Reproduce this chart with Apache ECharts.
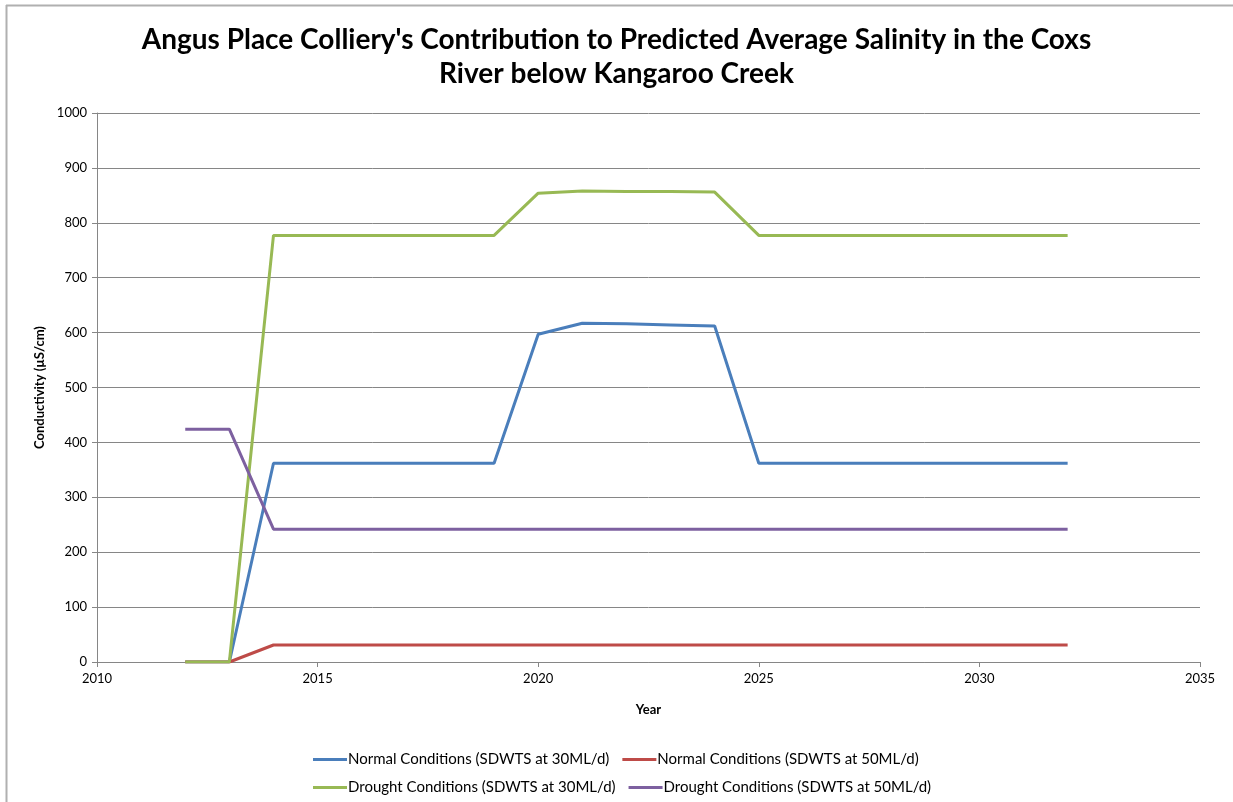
<!DOCTYPE html>
<html>
<head>
<meta charset="utf-8">
<script src="https://cdn.jsdelivr.net/npm/echarts@6/dist/echarts.min.js"></script>
<style>
    html, body { margin: 0; padding: 0; background: #fff; }
    #chart { width: 1233px; height: 802px; }
</style>
</head>
<body>
<div id="chart"></div>
<script>
// years and series values
var years          = [2012, 2013, 2014, 2015, 2016, 2017, 2018, 2019, 2020, 2021, 2022, 2023, 2024, 2025, 2026, 2027, 2028, 2029, 2030, 2031, 2032];
var normal30       = [0, 0, 362, 362, 362, 362, 362, 362, 597, 617, 616, 614, 612, 362, 362, 362, 362, 362, 362, 362, 362];
var normal50       = [0, 0, 31, 31, 31, 31, 31, 31, 31, 31, 31, 31, 31, 31, 31, 31, 31, 31, 31, 31, 31];
var drought30      = [0, 0, 777, 777, 777, 777, 777, 777, 854, 858, 857, 857, 856, 777, 777, 777, 777, 777, 777, 777, 777];
var drought50      = [424, 424, 242, 242, 242, 242, 242, 242, 242, 242, 242, 242, 242, 242, 242, 242, 242, 242, 242, 242, 242];
var seriesNames    = [
    'Normal Conditions (SDWTS at 30ML/d)',
    'Normal Conditions (SDWTS at 50ML/d)',
    'Drought Conditions (SDWTS at 30ML/d)',
    'Drought Conditions (SDWTS at 50ML/d)'
];
var seriesColors   = ['#4a7ebb', '#be4b48', '#98b954', '#7d60a0'];

var font = 'Lato, "Open Sans", sans-serif';

function pairs(vals) {
    return years.map(function (y, i) { return [y, vals[i]]; });
}

var allVals = [normal30, normal50, drought30, drought50];

var series = allVals.map(function (vals, i) {
    return {
        name: seriesNames[i],
        type: 'line',
        data: pairs(vals),
        showSymbol: false,
        symbol: 'none',
        lineStyle: { width: 3, color: seriesColors[i] },
        itemStyle: { color: seriesColors[i] }
    };
});

var chart = echarts.init(document.getElementById('chart'));

var option = {
    backgroundColor: '#fff',
    animation: false,
    title: {
        text: "Angus Place Colliery's Contribution to Predicted Average Salinity in the Coxs\nRiver below Kangaroo Creek",
        left: 'center',
        top: 18,
        textStyle: {
            fontFamily: font,
            fontSize: 28,
            fontWeight: 'bold',
            color: '#000',
            lineHeight: 34
        }
    },
    grid: { left: 97, right: 33, top: 113, bottom: 140, containLabel: false },
    legend: {
        bottom: 2,
        left: 308,
        width: 680,
        itemWidth: 34,
        itemHeight: 3,
        itemGap: 13,
        icon: 'rect',
        data: seriesNames,
        textStyle: { fontFamily: font, fontSize: 15, color: '#000', padding: [0, 0, 0, -4] },
        itemStyle: { borderWidth: 0 }
    },
    xAxis: {
        type: 'value',
        min: 2010,
        max: 2035,
        interval: 5,
        name: 'Year',
        nameLocation: 'middle',
        nameGap: 41,
        nameTextStyle: { fontFamily: font, fontSize: 13, fontWeight: 'bold', color: '#000' },
        axisLine: { show: true, lineStyle: { color: '#868686', width: 1 } },
        axisTick: { show: true, inside: false, length: 5, lineStyle: { color: '#868686' } },
        axisLabel: { fontFamily: font, fontSize: 13, color: '#000', margin: 10, formatter: function (v) { return String(v); } },
        splitLine: { show: false }
    },
    yAxis: {
        type: 'value',
        min: 0,
        max: 1000,
        interval: 100,
        name: 'Conductivity (\u00b5S/cm)',
        nameLocation: 'middle',
        nameGap: 50,
        nameTextStyle: { fontFamily: font, fontSize: 13, fontWeight: 'bold', color: '#000' },
        axisLine: { show: true, lineStyle: { color: '#868686', width: 1 } },
        axisTick: { show: true, inside: false, length: 5, lineStyle: { color: '#868686' } },
        axisLabel: { fontFamily: font, fontSize: 13, color: '#000', margin: 10, formatter: function (v) { return String(v); } },
        splitLine: { show: true, lineStyle: { color: '#868686', width: 1 } }
    },
    graphic: [
        { type: 'line', shape: { x1: 6, y1: 5.5, x2: 1233, y2: 5.5 }, style: { stroke: '#b0b0b0', lineWidth: 2 } },
        { type: 'line', shape: { x1: 6.5, y1: 5, x2: 6.5, y2: 802 }, style: { stroke: '#b0b0b0', lineWidth: 2 } }
    ],
    series: series
};

chart.setOption(option);
</script>
</body>
</html>
